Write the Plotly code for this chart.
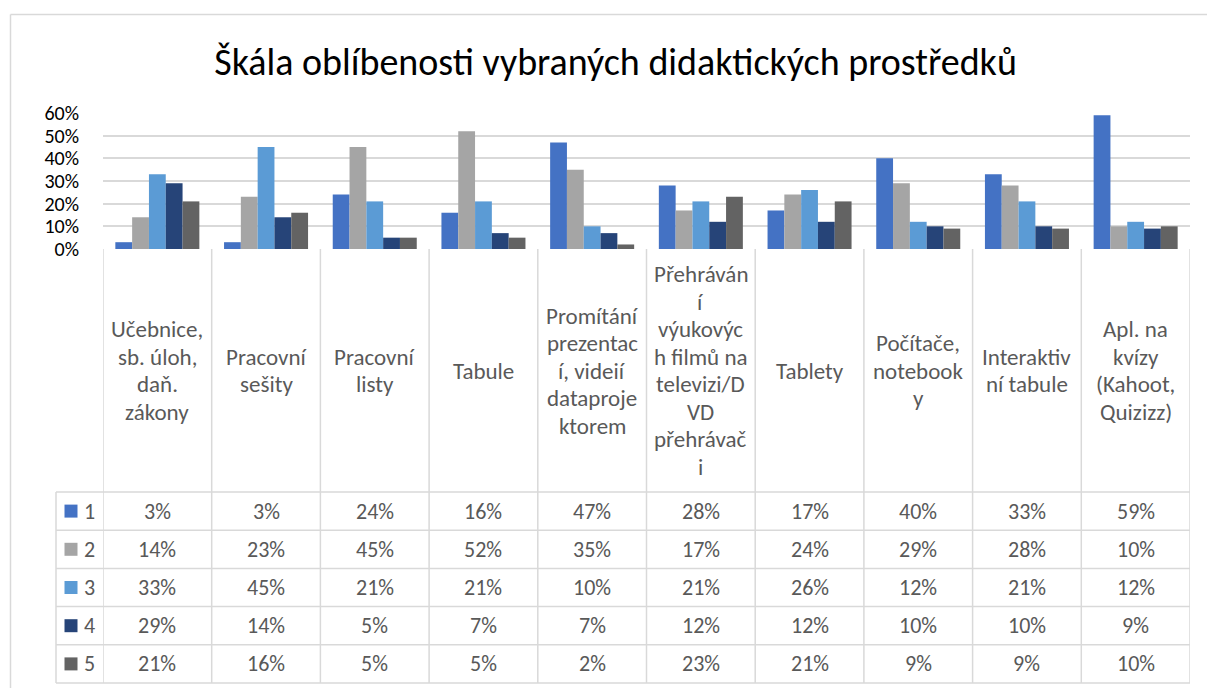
import plotly.graph_objects as go

# ---------------- data ----------------
categories = [
    "Učebnice, sb. úloh, daň. zákony",
    "Pracovní sešity",
    "Pracovní listy",
    "Tabule",
    "Promítání prezentací, videií dataprojektorem",
    "Přehrávání výukových filmů na televizi/DVD přehrávači",
    "Tablety",
    "Počítače, notebooky",
    "Interaktivní tabule",
    "Apl. na kvízy (Kahoot, Quizizz)",
]
# header text wrapped as in the original table
header_labels = [
    ["Učebnice,", "sb. úloh,", "daň.", "zákony"],
    ["Pracovní", "sešity"],
    ["Pracovní", "listy"],
    ["Tabule"],
    ["Promítání", "prezentac", "í, videií", "dataproje", "ktorem"],
    ["Přehráván", "í", "výukovýc", "h filmů na", "televizi/D", "VD", "přehrávač", "i"],
    ["Tablety"],
    ["Počítače,", "notebook", "y"],
    ["Interaktiv", "ní tabule"],
    ["Apl. na", "kvízy", "(Kahoot,", "Quizizz)"],
]
series_names = ["1", "2", "3", "4", "5"]
s1 = [3, 3, 24, 16, 47, 28, 17, 40, 33, 59]
s2 = [14, 23, 45, 52, 35, 17, 24, 29, 28, 10]
s3 = [33, 45, 21, 21, 10, 21, 26, 12, 21, 12]
s4 = [29, 14, 5, 7, 7, 12, 12, 10, 10, 9]
s5 = [21, 16, 5, 5, 2, 23, 21, 9, 9, 10]
series_values = [s1, s2, s3, s4, s5]
colors = ["#4472C4", "#A5A5A5", "#5B9BD5", "#264478", "#636363"]
y_ticks = [0, 10, 20, 30, 40, 50, 60]
title_text = "Škála oblíbenosti vybraných didaktických prostředků"

# ---------------- layout geometry ----------------
W, H = 1207, 688
FONT = "Carlito, Lato, sans-serif"
GRID = "#D9D9D9"
TXT = "#595959"
FS = 22

def py(px):
    return 1 - px / H

def pxx(px):
    return px / W

plot_left, plot_right = 103, 1190
plot_top, plot_bottom = 113, 249
header_bottom = 492
row_h = 38.2
table_left = 56

fig = go.Figure()
for name, vals, col in zip(series_names, series_values, colors):
    fig.add_trace(go.Bar(name=name, x=categories, y=vals, marker_color=col,
                         marker_line_width=0))

shapes = []
annotations = []
n = len(categories)
table_bottom = header_bottom + row_h * len(series_names)

# vertical lines of the data table (category boundaries)
for k in range(n + 1):
    shapes.append(dict(type="line", xref="x", yref="paper", x0=k - 0.5, x1=k - 0.5,
                       y0=py(plot_bottom), y1=py(table_bottom),
                       line=dict(color=GRID, width=1.5)))
# legend column left edge
shapes.append(dict(type="line", xref="paper", yref="paper", x0=pxx(table_left), x1=pxx(table_left),
                   y0=py(header_bottom), y1=py(table_bottom), line=dict(color=GRID, width=1.5)))
# horizontal row lines
for r in range(len(series_names) + 1):
    yy = header_bottom + r * row_h
    shapes.append(dict(type="line", xref="paper", yref="paper", x0=pxx(table_left), x1=pxx(plot_right),
                       y0=py(yy), y1=py(yy), line=dict(color=GRID, width=1.5)))
# outer chart border (left and top)
shapes.append(dict(type="line", xref="paper", yref="paper", x0=pxx(10.5), x1=pxx(10.5),
                   y0=py(14.5), y1=0, line=dict(color=GRID, width=1.5)))
shapes.append(dict(type="line", xref="paper", yref="paper", x0=pxx(10.5), x1=1,
                   y0=py(14.5), y1=py(14.5), line=dict(color=GRID, width=1.5)))

# header labels
header_center = (plot_bottom + header_bottom) / 2
line_sp = 27.5
for i, lines in enumerate(header_labels):
    m = len(lines)
    for j, ln in enumerate(lines):
        yy = header_center + (j - (m - 1) / 2) * line_sp
        annotations.append(dict(x=categories[i], y=py(yy), xref="x", yref="paper",
                                text=ln, showarrow=False, xanchor="center", yanchor="middle",
                                font=dict(family=FONT, size=23, color=TXT)))

# table values and legend keys
for r, (name, vals, col) in enumerate(zip(series_names, series_values, colors)):
    yc = header_bottom + (r + 0.5) * row_h
    for i, v in enumerate(vals):
        annotations.append(dict(x=categories[i], y=py(yc), xref="x", yref="paper",
                                text=f"{v}%", showarrow=False, xanchor="center", yanchor="middle",
                                font=dict(family=FONT, size=FS, color=TXT)))
    shapes.append(dict(type="rect", xref="paper", yref="paper",
                       x0=pxx(64.5), x1=pxx(77.5), y0=py(yc - 6.5), y1=py(yc + 6.5),
                       fillcolor=col, line=dict(width=0)))
    annotations.append(dict(x=pxx(82), y=py(yc), xref="paper", yref="paper",
                            text=name, showarrow=False, xanchor="left", yanchor="middle",
                            font=dict(family=FONT, size=FS, color=TXT)))

fig.update_layout(
    template="none",
    width=W, height=H, autosize=False,
    margin=dict(l=0, r=0, t=0, b=0, pad=0),
    paper_bgcolor="white", plot_bgcolor="white",
    title=dict(text=title_text, x=0.51, xanchor="center", y=py(62), yanchor="middle",
               font=dict(family=FONT, size=38, color="#000000")),
    barmode="group", bargap=0.227, bargroupgap=0,
    showlegend=False,
    xaxis=dict(domain=[pxx(plot_left), pxx(plot_right)], range=[-0.5, n - 0.5],
               showticklabels=False, showgrid=False, zeroline=False, showline=False,
               automargin=False, ticks="", fixedrange=True),
    yaxis=dict(domain=[py(plot_bottom), py(plot_top)], range=[0, 60],
               tickvals=y_ticks, ticktext=[f"{t}%" for t in y_ticks],
               tickfont=dict(family=FONT, size=20, color="#000000"),
               showgrid=True, gridcolor=GRID, gridwidth=1.5,
               zeroline=False, showline=False, ticks="", ticklabelstandoff=23,
               automargin=False, fixedrange=True),
    shapes=shapes,
    annotations=annotations,
    font=dict(family=FONT),
)

fig.write_html("out.html", config={"displayModeBar": False},
               post_script="document.body.style.margin='0';")
